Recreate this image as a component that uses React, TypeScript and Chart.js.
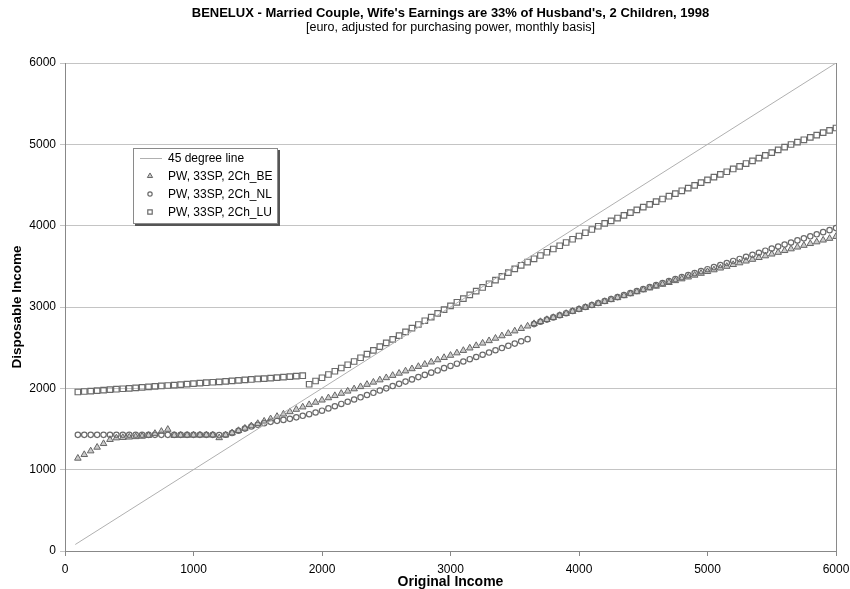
import React, { useEffect, useRef } from "react";
import { Chart, registerables } from "chart.js";
import { drawPoint } from "chart.js/helpers";

Chart.register(...registerables);

const TITLE = "BENELUX - Married Couple, Wife's Earnings are 33% of Husband's, 2 Children, 1998";
const SUBTITLE = "[euro, adjusted for purchasing power, monthly basis]";
const X_TITLE = "Original Income";
const Y_TITLE = "Disposable Income";
const SERIES_NAMES = ["45 degree line", "PW, 33SP, 2Ch_BE", "PW, 33SP, 2Ch_NL", "PW, 33SP, 2Ch_LU"];

const X_TICKS = [0, 1000, 2000, 3000, 4000, 5000, 6000];
const Y_TICKS = [0, 1000, 2000, 3000, 4000, 5000, 6000];

const lineX = [80, 6000];
const lineY = [80, 6000];

const incomes = [
  100, 150, 200, 250, 300, 350, 400, 450, 500, 550,
  600, 650, 700, 750, 800, 850, 900, 950, 1000, 1050,
  1100, 1150, 1200, 1250, 1300, 1350, 1400, 1450, 1500, 1550,
  1600, 1650, 1700, 1750, 1800, 1850, 1900, 1950, 2000, 2050,
  2100, 2150, 2200, 2250, 2300, 2350, 2400, 2450, 2500, 2550,
  2600, 2650, 2700, 2750, 2800, 2850, 2900, 2950, 3000, 3050,
  3100, 3150, 3200, 3250, 3300, 3350, 3400, 3450, 3500, 3550,
  3600, 3650, 3700, 3750, 3800, 3850, 3900, 3950, 4000, 4050,
  4100, 4150, 4200, 4250, 4300, 4350, 4400, 4450, 4500, 4550,
  4600, 4650, 4700, 4750, 4800, 4850, 4900, 4950, 5000, 5050,
  5100, 5150, 5200, 5250, 5300, 5350, 5400, 5450, 5500, 5550,
  5600, 5650, 5700, 5750, 5800, 5850, 5900, 5950, 6000,
];

const be = [
  1140, 1185, 1230, 1275, 1320, 1370, 1390, 1395, 1400, 1405,
  1410, 1420, 1445, 1470, 1495, 1420, 1422, 1422, 1424, 1424,
  1425, 1425, 1392, 1425, 1452, 1480, 1509, 1538, 1567, 1596,
  1625, 1654, 1683, 1712, 1741, 1770, 1799, 1828, 1855, 1883,
  1910, 1938, 1965, 1993, 2020, 2048, 2075, 2103, 2130, 2158,
  2185, 2213, 2240, 2268, 2295, 2323, 2350, 2378, 2405, 2435,
  2465, 2495, 2525, 2555, 2585, 2615, 2645, 2675, 2705, 2735,
  2765, 2795, 2820, 2845, 2870, 2895, 2920, 2945, 2970, 2994,
  3018, 3042, 3066, 3090, 3114, 3138, 3162, 3186, 3210, 3233,
  3255, 3278, 3300, 3323, 3345, 3368, 3390, 3413, 3435, 3456,
  3478, 3499, 3521, 3542, 3564, 3585, 3607, 3628, 3650, 3671,
  3693, 3714, 3736, 3757, 3779, 3800, 3822, 3843, 3866,
];

const nl = [
  1428, 1428, 1428, 1428, 1428, 1428, 1428, 1428, 1428, 1428,
  1428, 1428, 1428, 1428, 1428, 1428, 1428, 1428, 1428, 1428,
  1428, 1428, 1425, 1430, 1450, 1478, 1505, 1530, 1552, 1572,
  1588, 1600, 1612, 1625, 1643, 1662, 1682, 1703, 1725, 1753,
  1780, 1808, 1835, 1863, 1890, 1918, 1945, 1973, 2000, 2028,
  2055, 2083, 2110, 2138, 2165, 2193, 2220, 2248, 2275, 2303,
  2330, 2358, 2385, 2413, 2440, 2468, 2495, 2523, 2550, 2578,
  2605, 2790, 2818, 2845, 2872, 2898, 2924, 2950, 2975, 3000,
  3024, 3049, 3073, 3098, 3122, 3147, 3171, 3196, 3220, 3245,
  3269, 3294, 3318, 3343, 3367, 3392, 3416, 3441, 3465, 3490,
  3516, 3541, 3566, 3591, 3617, 3642, 3667, 3692, 3718, 3743,
  3768, 3793, 3819, 3844, 3869, 3894, 3920, 3945, 3970,
];

const lu = [
  1955, 1961, 1966, 1972, 1978, 1983, 1989, 1995, 2000, 2006,
  2012, 2018, 2023, 2029, 2035, 2040, 2046, 2052, 2057, 2063,
  2069, 2075, 2080, 2086, 2092, 2097, 2103, 2109, 2115, 2120,
  2126, 2132, 2137, 2143, 2149, 2155, 2050, 2090, 2130, 2170,
  2210, 2250, 2290, 2330, 2376, 2421, 2467, 2512, 2558, 2603,
  2649, 2694, 2740, 2785, 2831, 2876, 2922, 2967, 3013, 3058,
  3104, 3149, 3195, 3240, 3286, 3331, 3377, 3422, 3468, 3513,
  3553, 3593, 3633, 3673, 3713, 3753, 3793, 3833, 3873, 3913,
  3953, 3993, 4027, 4060, 4094, 4127, 4161, 4194, 4228, 4261,
  4295, 4328, 4362, 4395, 4429, 4462, 4496, 4529, 4563, 4596,
  4630, 4663, 4697, 4730, 4764, 4797, 4831, 4864, 4898, 4931,
  4965, 4998, 5027, 5056, 5085, 5114, 5143, 5172, 5201,
];

const FONT = "'Liberation Sans', Arial, Helvetica, sans-serif";

const toPoints = (xs: number[], ys: number[]) => xs.map((x, i) => ({ x, y: ys[i] }));

const decorPlugin = {
  id: "decor",
  afterDraw(chart: any) {
    const { ctx, chartArea: a } = chart;
    ctx.save();
    ctx.strokeStyle = "#8a8a8a";
    ctx.lineWidth = 1;
    ctx.beginPath();
    ctx.moveTo(Math.round(a.right) + 0.5, a.top);
    ctx.lineTo(Math.round(a.right) + 0.5, a.bottom);
    ctx.stroke();

    const cx = (a.left + a.right) / 2;
    ctx.fillStyle = "#000";
    ctx.textAlign = "center";
    ctx.textBaseline = "middle";
    ctx.font = `bold 13px ${FONT}`;
    ctx.fillText(TITLE, cx, 13);
    ctx.font = `12.5px ${FONT}`;
    ctx.fillText(SUBTITLE, cx, 28);
    ctx.font = `bold 14px ${FONT}`;
    ctx.fillText(X_TITLE, cx, 582);
    ctx.font = `bold 13.5px ${FONT}`;
    ctx.save();
    ctx.translate(17, (a.top + a.bottom) / 2);
    ctx.rotate(-Math.PI / 2);
    ctx.fillText(Y_TITLE, 0, 0);
    ctx.restore();

    const lx = 133, ly = 148, lw = 145, lh = 76;
    ctx.fillStyle = "#555";
    ctx.fillRect(lx + 2, ly + 2, lw, lh);
    ctx.fillStyle = "#fff";
    ctx.fillRect(lx, ly, lw, lh);
    ctx.strokeStyle = "#8a8a8a";
    ctx.strokeRect(lx + 0.5, ly + 0.5, lw - 1, lh - 1);

    const rows = [158, 176, 194, 212];
    ctx.font = `12px ${FONT}`;
    ctx.textAlign = "left";
    ctx.textBaseline = "middle";
    chart.data.datasets.forEach((ds: any, i: number) => {
      const y = rows[i];
      if (i === 0) {
        ctx.strokeStyle = ds.borderColor;
        ctx.lineWidth = 1;
        ctx.beginPath();
        ctx.moveTo(140, y + 0.5);
        ctx.lineTo(162, y + 0.5);
        ctx.stroke();
      } else {
        ctx.fillStyle = ds.pointBackgroundColor;
        ctx.strokeStyle = ds.pointBorderColor;
        ctx.lineWidth = ds.pointBorderWidth;
        drawPoint(ctx, { pointStyle: ds.pointStyle, radius: ds.pointRadius * 0.8, rotation: 0, borderWidth: ds.pointBorderWidth }, 150, y);
      }
      ctx.fillStyle = "#000";
      ctx.fillText(SERIES_NAMES[i], 168, y + 1);
    });
    ctx.restore();
  },
};

export default function App() {
  const ref = useRef<HTMLCanvasElement | null>(null);

  useEffect(() => {
    if (!ref.current) return;
    const chart = new Chart(ref.current, {
      type: "scatter",
      data: {
        datasets: [
          {
            label: SERIES_NAMES[0],
            data: toPoints(lineX, lineY),
            showLine: true,
            borderColor: "#b0b0b0",
            borderWidth: 1,
            pointRadius: 0,
          },
          {
            label: SERIES_NAMES[1],
            data: toPoints(incomes, be),
            pointStyle: "triangle",
            pointRadius: 3.8,
            pointBorderWidth: 1,
            pointBorderColor: "#666",
            pointBackgroundColor: "rgba(140,140,140,0.45)",
          },
          {
            label: SERIES_NAMES[2],
            data: toPoints(incomes, nl),
            pointStyle: "circle",
            pointRadius: 2.7,
            pointBorderWidth: 1.2,
            pointBorderColor: "#6a6a6a",
            pointBackgroundColor: "rgba(255,255,255,0)",
          },
          {
            label: SERIES_NAMES[3],
            data: toPoints(incomes, lu),
            pointStyle: "rect",
            pointRadius: 3.9,
            pointBorderWidth: 1.2,
            pointBorderColor: "#6a6a6a",
            pointBackgroundColor: "rgba(255,255,255,0)",
          },
        ],
      },
      options: {
        animation: false,
        responsive: true,
        maintainAspectRatio: false,
        layout: { padding: { top: 63, right: 14, left: 0, bottom: 0 } },
        plugins: {
          legend: { display: false },
          title: { display: false },
          tooltip: { enabled: false },
        },
        scales: {
          x: {
            type: "linear",
            min: 0,
            max: 6000,
            afterFit: (s: any) => { s.height = 38; s.paddingRight = 0; s.paddingLeft = 0; },
            afterBuildTicks: (s: any) => { s.ticks = X_TICKS.map((v) => ({ value: v })); },
            grid: { drawOnChartArea: false, drawTicks: true, tickLength: 5, color: "#888" },
            border: { color: "#888", width: 1 },
            ticks: { font: { family: FONT, size: 12 }, color: "#000", padding: 6, maxRotation: 0, autoSkip: false, callback: (v: any) => String(v) },
          },
          y: {
            type: "linear",
            min: 0,
            max: 6000,
            afterFit: (s: any) => { s.width = 65; s.paddingTop = 0; s.paddingBottom = 0; },
            afterBuildTicks: (s: any) => { s.ticks = Y_TICKS.map((v) => ({ value: v })); },
            grid: { color: "#c4c4c4", tickLength: 5, drawTicks: true },
            border: { color: "#888", width: 1 },
            ticks: { font: { family: FONT, size: 12 }, color: "#000", padding: 4, autoSkip: false, callback: (v: any) => String(v) },
          },
        },
      },
      plugins: [decorPlugin],
    });
    return () => chart.destroy();
  }, []);

  return (
    <div style={{ position: "fixed", left: 0, top: 0, width: 850, height: 589, background: "#fff" }}>
      <canvas ref={ref} />
    </div>
  );
}
